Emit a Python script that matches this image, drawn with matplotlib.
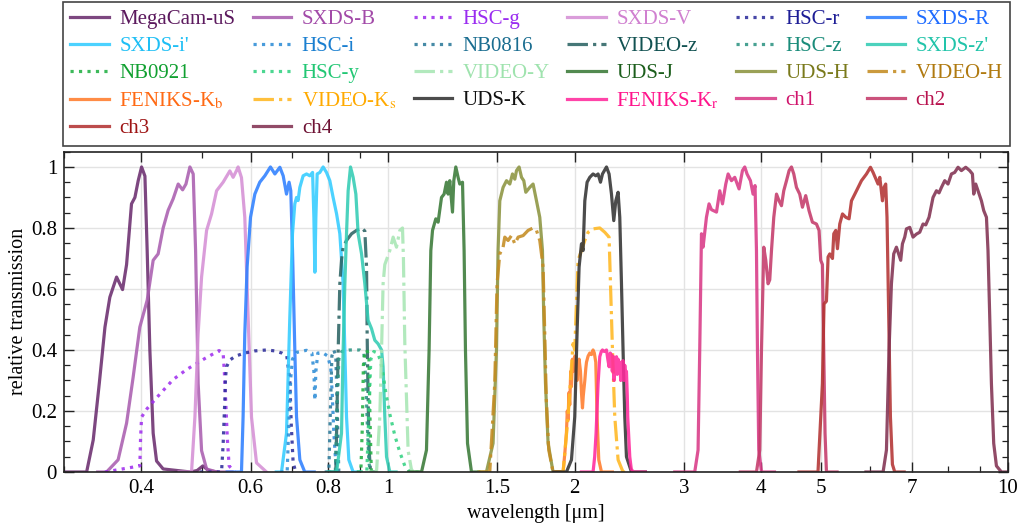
import matplotlib
matplotlib.use("Agg")
import matplotlib.pyplot as plt
from matplotlib.ticker import FixedLocator, FixedFormatter, NullFormatter, MultipleLocator

plt.rcParams["font.family"] = ["Liberation Serif", "DejaVu Serif"]
plt.rcParams["mathtext.fontset"] = "stix"
plt.rcParams["font.size"] = 15

# ---------------- filter transmission curves (wavelength in micron) ----------------
megacam_us_wl = [0.3000, 0.3263, 0.3344, 0.3420, 0.3493, 0.3557, 0.3647, 0.3729, 0.3785, 0.3855, 0.3904, 0.3952,
                 0.4002, 0.4052, 0.4086, 0.4127, 0.4178, 0.4231, 0.4336, 0.4800, 0.4920, 0.5025, 0.5130, 0.5300]
megacam_us_tr = [0.0, 0.0, 0.105, 0.29, 0.475, 0.573, 0.639, 0.598, 0.68, 0.879, 0.90, 0.955,
                 1.0, 0.97, 0.726, 0.40, 0.127, 0.036, 0.01, 0.0, 0.005, 0.02, 0.005, 0.0]

sxds_b_wl = [0.3400, 0.3514, 0.3668, 0.3785, 0.3878, 0.3976, 0.4086, 0.4178, 0.4256, 0.4336, 0.4417, 0.4499,
             0.4585, 0.4661, 0.4719, 0.4789, 0.4848, 0.4891, 0.4938, 0.5001, 0.5095, 0.5288, 0.5600]
sxds_b_tr = [0.0, 0.0, 0.04, 0.16, 0.31, 0.475, 0.563, 0.694, 0.715, 0.80, 0.858, 0.895,
             0.944, 0.925, 0.944, 1.0, 0.977, 0.726, 0.29, 0.07, 0.01, 0.0, 0.0]

hsc_g_wl = [0.3493, 0.3976, 0.3987, 0.4002, 0.4086, 0.4256, 0.4499, 0.4731, 0.5062, 0.5337, 0.5418, 0.5442,
            0.5473, 0.5503, 0.5540, 0.5655]
hsc_g_tr = [0.0, 0.02, 0.11, 0.18, 0.208, 0.249, 0.303, 0.336, 0.372, 0.398, 0.39, 0.33,
            0.22, 0.11, 0.02, 0.0]

sxds_v_wl = [0.4600, 0.4818, 0.4879, 0.4938, 0.5001, 0.5095, 0.5190, 0.5288, 0.5418, 0.5555, 0.5623, 0.5694,
             0.5728, 0.5800, 0.5872, 0.5945, 0.6020, 0.6133, 0.6365]
sxds_v_tr = [0.0, 0.0, 0.181, 0.454, 0.639, 0.792, 0.846, 0.922, 0.95, 0.987, 0.966, 0.988,
             1.0, 0.965, 0.835, 0.508, 0.18, 0.03, 0.0]

hsc_r_wl = [0.4970, 0.5386, 0.5418, 0.5452, 0.5466, 0.5487, 0.5555, 0.5673, 0.5872, 0.6095, 0.6365, 0.6566,
            0.6738, 0.6864, 0.6941, 0.6980, 0.7027, 0.7097]
hsc_r_tr = [0.0, 0.0, 0.09, 0.235, 0.31, 0.345, 0.367, 0.38, 0.39, 0.397, 0.40, 0.397,
            0.39, 0.38, 0.30, 0.15, 0.03, 0.0]

sxds_r_wl = [0.5500, 0.5800, 0.5835, 0.5872, 0.5923, 0.5998, 0.6095, 0.6208, 0.6326, 0.6459, 0.6566, 0.6689,
             0.6772, 0.6856, 0.6922, 0.6966, 0.7010, 0.7071, 0.7116, 0.7204, 0.7338, 0.7600]
sxds_r_tr = [0.0, 0.0, 0.181, 0.454, 0.672, 0.835, 0.911, 0.95, 0.971, 1.0, 0.977, 0.999,
             0.971, 0.911, 0.95, 0.922, 0.73, 0.4, 0.181, 0.04, 0.0, 0.0]

sxds_i_wl = [0.6600, 0.6730, 0.6856, 0.6941, 0.7010, 0.7071, 0.7116, 0.7158, 0.7204, 0.7293, 0.7386, 0.7476,
             0.7553, 0.7590, 0.7618, 0.7646, 0.7683, 0.7760, 0.7855, 0.7954, 0.8053, 0.8152, 0.8258, 0.8358,
             0.8461, 0.8515, 0.8568, 0.8642, 0.8781, 0.9000]
sxds_i_tr = [0.0, 0.0, 0.127, 0.508, 0.781, 0.879, 0.90, 0.89, 0.933, 0.971, 0.977, 0.971,
             0.982, 0.835, 0.655, 0.835, 0.977, 0.982, 1.0, 0.982, 0.955, 0.90, 0.846, 0.781,
             0.617, 0.40, 0.181, 0.04, 0.0, 0.0]

hsc_i_wl = [0.6700, 0.6873, 0.6922, 0.6966, 0.7010, 0.7116, 0.7386, 0.7533, 0.7590, 0.7618, 0.7646, 0.7702,
            0.7855, 0.7993, 0.8082, 0.8128, 0.8173, 0.8220, 0.8268, 0.8400]
hsc_i_tr = [0.0, 0.0, 0.181, 0.31, 0.37, 0.392, 0.399, 0.39, 0.33, 0.235, 0.33, 0.39,
            0.39, 0.38, 0.34, 0.25, 0.13, 0.05, 0.0, 0.0]

nb0816_wl = [0.7900, 0.8024, 0.8069, 0.8114, 0.8173, 0.8234, 0.8280, 0.8326, 0.8450]
nb0816_tr = [0.0, 0.0, 0.2, 0.38, 0.40, 0.38, 0.2, 0.0, 0.0]

video_z_wl = [0.8000, 0.8234, 0.8307, 0.8358, 0.8410, 0.8461, 0.8568, 0.8730, 0.8891, 0.9060, 0.9171, 0.9230,
              0.9250, 0.9284, 0.9319, 0.9367, 0.9600]
video_z_tr = [0.0, 0.0, 0.4, 0.617, 0.694, 0.737, 0.759, 0.781, 0.792, 0.80, 0.79, 0.672,
              0.454, 0.235, 0.073, 0.0, 0.0]

hsc_z_wl = [0.8000, 0.8220, 0.8268, 0.8326, 0.8420, 0.8673, 0.9003, 0.9138, 0.9206, 0.9258, 0.9311, 0.9378, 0.9600]
hsc_z_tr = [0.0, 0.0, 0.2, 0.37, 0.395, 0.40, 0.40, 0.39, 0.3, 0.15, 0.03, 0.0, 0.0]

sxds_z_wl = [0.8000, 0.8258, 0.8410, 0.8461, 0.8515, 0.8568, 0.8620, 0.8696, 0.8781, 0.8871, 0.8946, 0.9060,
             0.9171, 0.9284, 0.9402, 0.9517, 0.9636, 0.9759, 0.9815, 0.9878, 0.9941, 1.0063, 1.0300]
sxds_z_tr = [0.0, 0.0, 0.127, 0.4, 0.617, 0.781, 0.922, 1.0, 0.966, 0.911, 0.781, 0.715,
             0.617, 0.497, 0.47, 0.432, 0.42, 0.40, 0.345, 0.181, 0.05, 0.0, 0.0]

nb0921_wl = [0.8900, 0.9036, 0.9087, 0.9122, 0.9171, 0.9239, 0.9311, 0.9343, 0.9395, 0.9550]
nb0921_tr = [0.0, 0.0, 0.15, 0.35, 0.39, 0.40, 0.38, 0.2, 0.0, 0.0]

hsc_y_wl = [0.9000, 0.9239, 0.9311, 0.9378, 0.9482, 0.9625, 0.9732, 0.9815, 0.9915, 1.0063, 1.0251, 1.0444,
            1.0640, 1.0839, 1.1200]
hsc_y_tr = [0.0, 0.0, 0.2, 0.37, 0.395, 0.39, 0.36, 0.32, 0.26, 0.19, 0.12, 0.065, 0.02, 0.0, 0.0]

video_y_wl = [0.9300, 0.9578, 0.9696, 0.9759, 0.9815, 0.9878, 1.0063, 1.0188, 1.0316, 1.0444, 1.0549, 1.0585,
              1.0640, 1.0707, 1.0771, 1.0900, 1.0973, 1.1300]
video_y_tr = [0.0, 0.0, 0.181, 0.4, 0.617, 0.68, 0.726, 0.77, 0.737, 0.792, 0.80, 0.70,
              0.42, 0.24, 0.07, 0.01, 0.0, 0.0]

uds_j_wl = [1.0800, 1.1321, 1.1531, 1.1644, 1.1719, 1.1793, 1.1938, 1.2040, 1.2193, 1.2312, 1.2422, 1.2496,
            1.2574, 1.2701, 1.2763, 1.2858, 1.2968, 1.3049, 1.3182, 1.3261, 1.3328, 1.3430, 1.3630, 1.4000]
uds_j_tr = [0.0, 0.0, 0.072, 0.4, 0.726, 0.792, 0.83, 0.819, 0.90, 0.911, 0.95, 0.911,
            0.955, 0.852, 0.955, 1.0, 0.966, 0.944, 0.95, 0.726, 0.4, 0.094, 0.0, 0.0]

uds_h_wl = [1.4000, 1.4407, 1.4767, 1.4955, 1.5044, 1.5141, 1.5327, 1.5524, 1.5715, 1.5871, 1.6010, 1.6110,
            1.6266, 1.6413, 1.6553, 1.6676, 1.6923, 1.7134, 1.7352, 1.7565, 1.7741, 1.7827, 1.7942, 1.8116,
            1.8453, 1.9000]
uds_h_tr = [0.0, 0.0, 0.094, 0.4, 0.726, 0.889, 0.933, 0.955, 0.944, 0.977, 0.96, 0.988,
            1.0, 0.966, 0.955, 0.917, 0.933, 0.944, 0.889, 0.835, 0.726, 0.508, 0.29, 0.094,
            0.0, 0.0]

video_h_wl = [1.4000, 1.4588, 1.4859, 1.4987, 1.5141, 1.5327, 1.5424, 1.5615, 1.5812, 1.6010, 1.6210, 1.6512,
              1.6818, 1.7134, 1.7352, 1.7565, 1.7783, 1.7893, 1.7998, 1.8162, 1.8453, 1.9000]
video_h_tr = [0.0, 0.0, 0.29, 0.617, 0.715, 0.737, 0.77, 0.759, 0.775, 0.748, 0.77, 0.775,
              0.792, 0.80, 0.792, 0.759, 0.672, 0.454, 0.235, 0.072, 0.0, 0.0]

feniks_kb_wl = [1.8500, 1.9155, 1.9275, 1.9395, 1.9454, 1.9511, 1.9574, 1.9633, 1.9705, 1.9759, 1.9832, 1.9890,
                2.0002, 2.0074, 2.0173, 2.0248, 2.0327, 2.0431, 2.0508, 2.0584, 2.0646, 2.0764, 2.0840, 2.0893,
                2.1019, 2.1150, 2.1287, 2.1410, 2.1509, 2.1627, 2.1732, 2.1868, 2.2090, 2.3000]
feniks_kb_tr = [0.0, 0.0, 0.06, 0.13, 0.2, 0.17, 0.26, 0.22, 0.33, 0.28, 0.37, 0.33,
                0.38, 0.34, 0.30, 0.35, 0.37, 0.33, 0.26, 0.21, 0.25, 0.30, 0.34, 0.36,
                0.38, 0.39, 0.385, 0.40, 0.39, 0.36, 0.18, 0.04, 0.0, 0.0]

video_ks_wl = [1.8500, 1.9155, 1.9511, 1.9876, 2.0002, 2.0248, 2.0508, 2.0764, 2.1019, 2.1410, 2.1951, 2.2360,
               2.2723, 2.2840, 2.3011, 2.3208, 2.3496, 2.3933, 2.5000]
video_ks_tr = [0.0, 0.0, 0.181, 0.421, 0.40, 0.694, 0.726, 0.759, 0.786, 0.797, 0.80, 0.786,
               0.77, 0.617, 0.40, 0.181, 0.04, 0.0, 0.0]

uds_k_wl = [1.8500, 1.9395, 1.9759, 2.0002, 2.0173, 2.0327, 2.0508, 2.0631, 2.0764, 2.0941, 2.1150, 2.1410,
            2.1627, 2.1813, 2.2009, 2.2172, 2.2505, 2.2723, 2.2925, 2.3121, 2.3296, 2.3496, 2.3643, 2.3793,
            2.3933, 2.4087, 2.4237, 2.4693, 2.6000]
uds_k_tr = [0.0, 0.0, 0.04, 0.181, 0.454, 0.672, 0.748, 0.726, 0.889, 0.95, 0.966, 0.977,
            0.971, 0.977, 0.95, 0.977, 1.0, 0.977, 0.911, 0.824, 0.889, 0.917, 0.835, 0.617,
            0.40, 0.181, 0.05, 0.0, 0.0]

feniks_kr_wl = [2.0500, 2.1410, 2.1538, 2.1650, 2.1813, 2.1951, 2.2074, 2.2172, 2.2319, 2.2505, 2.2613, 2.2723,
                2.2823, 2.2925, 2.2996, 2.3063, 2.3145, 2.3208, 2.3296, 2.3354, 2.3420, 2.3496, 2.3567, 2.3643,
                2.3728, 2.3793, 2.3860, 2.3933, 2.4015, 2.4087, 2.4177, 2.4237, 2.4312, 2.4354, 2.4538, 2.4676,
                2.4845, 2.6000]
feniks_kr_tr = [0.0, 0.0, 0.05, 0.127, 0.29, 0.378, 0.395, 0.40, 0.395, 0.40, 0.37, 0.345,
                0.39, 0.384, 0.33, 0.38, 0.30, 0.37, 0.33, 0.378, 0.32, 0.37, 0.34, 0.36,
                0.30, 0.36, 0.31, 0.365, 0.30, 0.35, 0.31, 0.33, 0.25, 0.18, 0.05, 0.01,
                0.0, 0.0]

ch1_wl = [2.9000, 3.1234, 3.1623, 3.1820, 3.2026, 3.2218, 3.2622, 3.2939, 3.3236, 3.3862, 3.4277, 3.4626,
          3.5051, 3.5358, 3.5801, 3.6241, 3.6823, 3.7292, 3.7611, 3.7933, 3.8416, 3.8790, 3.9077, 3.9285,
          3.9429, 3.9620, 4.0024, 4.2000]
ch1_tr = [0.0, 0.0, 0.072, 0.40, 0.781, 0.737, 0.835, 0.879, 0.86, 0.852, 0.922, 0.879,
          0.944, 0.977, 0.955, 0.966, 0.928, 0.988, 1.0, 0.977, 0.955, 0.911, 0.939, 0.726,
          0.40, 0.072, 0.0, 0.0]

ch2_wl = [3.7000, 3.9285, 3.9766, 4.0024, 4.0365, 4.0665, 4.1015, 4.1271, 4.1538, 4.1893, 4.2320, 4.2722,
          4.3108, 4.3477, 4.3920, 4.4347, 4.4737, 4.5126, 4.5576, 4.6132, 4.6600, 4.7171, 4.7751, 4.8358,
          4.9091, 4.9568, 4.9877, 5.0190, 5.0434, 5.0679, 5.0946, 5.3000]
ch2_tr = [0.0, 0.0, 0.072, 0.40, 0.737, 0.694, 0.617, 0.63, 0.726, 0.835, 0.911, 0.889,
          0.873, 0.922, 0.955, 0.988, 1.0, 0.977, 0.933, 0.911, 0.868, 0.906, 0.857, 0.819,
          0.813, 0.792, 0.694, 0.68, 0.40, 0.127, 0.0, 0.0]

ch3_wl = [4.6000, 4.9370, 5.0190, 5.0492, 5.0946, 5.1257, 5.1577, 5.2102, 5.2355, 5.2743, 5.3072, 5.3529,
          5.4074, 5.4739, 5.5411, 5.5910, 5.6962, 5.8023, 5.9116, 5.9999, 6.0584, 6.1713, 6.2113, 6.2731,
          6.3096, 6.3490, 6.3798, 6.4210, 6.4612, 6.5092, 6.5664, 6.8000]
ch3_tr = [0.0, 0.0, 0.29, 0.551, 0.56, 0.705, 0.715, 0.70, 0.781, 0.792, 0.732, 0.813,
          0.846, 0.835, 0.83, 0.889, 0.922, 0.955, 0.977, 0.999, 0.982, 0.944, 0.966, 0.889,
          0.933, 0.944, 0.835, 0.508, 0.181, 0.025, 0.0, 0.0]

ch4_wl = [5.9000, 6.2876, 6.3666, 6.4283, 6.4853, 6.5409, 6.6069, 6.7131, 6.7563, 6.8143, 6.8568, 6.9425,
          7.0278, 7.1173, 7.2049, 7.2934, 7.3675, 7.4580, 7.5691, 7.6657, 7.7400, 7.8099, 7.9057, 8.0028,
          8.1049, 8.2035, 8.3059, 8.4101, 8.5470, 8.6741, 8.7624, 8.8048, 8.8700, 8.9460, 9.0598, 9.1376,
          9.2306, 9.2841, 9.3442, 9.4025, 9.4830, 9.5797, 9.7589, 10.0]
ch4_tr = [0.0, 0.0, 0.072, 0.40, 0.617, 0.715, 0.737, 0.694, 0.748, 0.77, 0.797, 0.802,
          0.77, 0.78, 0.786, 0.813, 0.81, 0.835, 0.90, 0.922, 0.915, 0.933, 0.955, 0.944,
          0.977, 0.982, 0.999, 0.988, 0.999, 0.988, 0.977, 0.911, 0.944, 0.922, 0.889, 0.857,
          0.835, 0.726, 0.508, 0.29, 0.094, 0.02, 0.0, 0.0]

filter_names = ["MegaCam-uS", "SXDS-B", "HSC-g", "SXDS-V", "HSC-r", "SXDS-R",
                "SXDS-i'", "HSC-i", "NB0816", "VIDEO-z", "HSC-z", "SXDS-z'",
                "NB0921", "HSC-y", "VIDEO-Y", "UDS-J", "UDS-H", "VIDEO-H",
                r"FENIKS-K$_\mathrm{b}$", r"VIDEO-K$_\mathrm{s}$", "UDS-K", r"FENIKS-K$_\mathrm{r}$", "ch1", "ch2",
                "ch3", "ch4"]
filter_curves = [
    (megacam_us_wl, megacam_us_tr), (sxds_b_wl, sxds_b_tr), (hsc_g_wl, hsc_g_tr), (sxds_v_wl, sxds_v_tr),
    (hsc_r_wl, hsc_r_tr), (sxds_r_wl, sxds_r_tr), (sxds_i_wl, sxds_i_tr), (hsc_i_wl, hsc_i_tr),
    (nb0816_wl, nb0816_tr), (video_z_wl, video_z_tr), (hsc_z_wl, hsc_z_tr), (sxds_z_wl, sxds_z_tr),
    (nb0921_wl, nb0921_tr), (hsc_y_wl, hsc_y_tr), (video_y_wl, video_y_tr), (uds_j_wl, uds_j_tr),
    (uds_h_wl, uds_h_tr), (video_h_wl, video_h_tr), (feniks_kb_wl, feniks_kb_tr), (video_ks_wl, video_ks_tr),
    (uds_k_wl, uds_k_tr), (feniks_kr_wl, feniks_kr_tr), (ch1_wl, ch1_tr), (ch2_wl, ch2_tr),
    (ch3_wl, ch3_tr), (ch4_wl, ch4_tr),
]

# ---------------- styling ----------------
line_colors = ["#6b2d6f", "#aa5fb0", "#a030ee", "#d590d5", "#2d2d9b", "#2f80ff",
               "#33ccff", "#2f8dd6", "#2c7a9a", "#2c6464", "#2e9483", "#33ccb4",
               "#22b043", "#33d282", "#a8e6b4", "#3a7a38", "#8c9440", "#c48c22",
               "#ff7c2c", "#ffb822", "#333333", "#ff2a9c", "#d93a87", "#c43a6a",
               "#b33333", "#823252"]
text_colors = ["#5c1a5e", "#a24aa8", "#9a2cf0", "#d080d0", "#1e1e96", "#1f6cff",
               "#1fbff5", "#1a7fd0", "#1a6d90", "#125252", "#1a8c7a", "#22c4aa",
               "#10a030", "#22c774", "#9fe3ae", "#1c5e1c", "#7a7a1c", "#b07a10",
               "#ff6a14", "#ffaa00", "#111111", "#ff148c", "#d0146c", "#b8124e",
               "#9e1414", "#6e1234"]
line_styles = ["-", "-", ":", "-", ":", "-",
               "-", ":", ":", "-.", ":", "-",
               ":", ":", "-.", "-", "-", "-.",
               "-", "-.", "-", "-", "-", "-",
               "-", "-"]

fig = plt.figure(figsize=(10.22, 5.23), dpi=100)
ax = fig.add_axes([64 / 1022, 51 / 523, 944 / 1022, 320.3 / 523])

handles = []
for name, (wl, tr), col, ls in zip(filter_names, filter_curves, line_colors, line_styles):
    h, = ax.plot(wl, tr, color=col, ls=ls, lw=2.3, alpha=0.88, label=name)
    handles.append(h)

ax.set_xscale("log")
ax.set_xlim(0.3, 10)
ax.set_ylim(0, 1.05)

x_major = [0.4, 0.6, 0.8, 1, 1.5, 2, 3, 4, 5, 7, 10]
x_major_labels = ["0.4", "0.6", "0.8", "1", "1.5", "2", "3", "4", "5", "7", "10"]
x_minor = [0.3, 0.5, 0.7, 0.9, 6, 8, 9]
ax.xaxis.set_major_locator(FixedLocator(x_major))
ax.xaxis.set_major_formatter(FixedFormatter(x_major_labels))
ax.xaxis.set_minor_locator(FixedLocator(x_minor))
ax.xaxis.set_minor_formatter(NullFormatter())
ax.yaxis.set_minor_locator(MultipleLocator(0.05))
ax.set_yticks([0, 0.2, 0.4, 0.6, 0.8, 1.0])
ax.set_yticklabels(["0", "0.2", "0.4", "0.6", "0.8", "1"])

ax.tick_params(which="both", direction="in", top=True, right=True, colors="#222222", labelcolor="black")
ax.tick_params(which="major", length=7, width=1.0, labelsize=15, pad=5)
ax.tick_params(which="minor", length=4, width=0.9)
ax.grid(True, which="major", color="#e3e3e3", lw=1.0)
ax.set_axisbelow(True)
for sp in ax.spines.values():
    sp.set_color("#222222")
    sp.set_linewidth(1.2)

ax.set_xlabel("wavelength [μm]", fontsize=14.5)
ax.xaxis.set_label_coords(0.5, -0.10)
ax.set_ylabel("relative transmission", fontsize=14.5)
ax.yaxis.set_label_coords(-0.038, 0.5)

# legend laid out row by row across six columns
ncol = 6
n = len(handles)
nrows = -(-n // ncol)
order = []
for c in range(ncol):
    for r in range(nrows):
        k = r * ncol + c
        if k < n:
            order.append(k)
leg = fig.legend([handles[k] for k in order], [filter_names[k] for k in order],
                 loc="upper left", bbox_to_anchor=(63 / 1022, 1 - 2 / 523, 947 / 1022, 0),
                 mode="expand", ncols=ncol, fancybox=False, frameon=True, framealpha=1,
                 edgecolor="#444444", handlelength=1.85, handletextpad=0.5,
                 borderaxespad=0, labelspacing=0.36, borderpad=0.35, fontsize=15)
leg.get_frame().set_linewidth(1.2)
for t, k in zip(leg.get_texts(), order):
    t.set_color(text_colors[k])

fig.savefig("out.png", dpi=100)
